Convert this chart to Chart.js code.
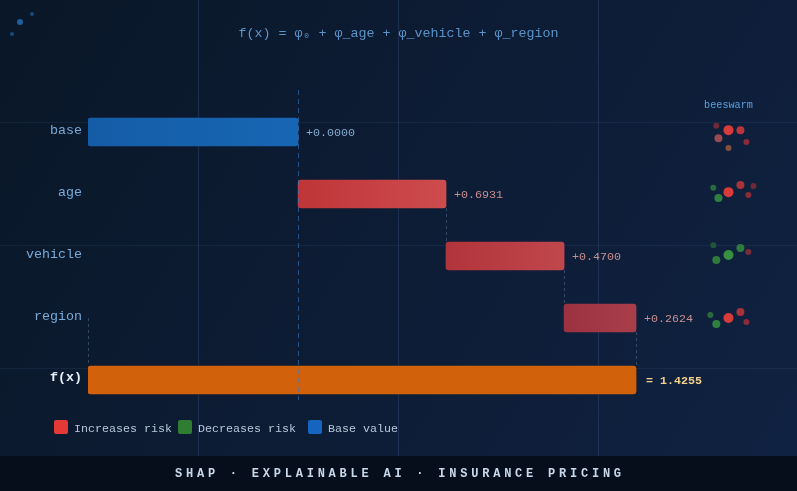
<!DOCTYPE html>
<html>
<head>
<meta charset="utf-8">
<title>SHAP waterfall</title>
<script src="https://cdn.jsdelivr.net/npm/chart.js@4/dist/chart.umd.js"></script>
<style>
  html, body { margin: 0; padding: 0; background: #0a1628; overflow: hidden; }
  canvas { display: block; }
</style>
</head>
<body>
<canvas id="chart" width="797" height="491"></canvas>
<script>
const features = ["base", "age", "vehicle", "region", "f(x)"];
// bar extents as drawn in the picture (the drawn widths are not proportional to the printed labels)
const barStart = [-0.984, 0, 0.693, 1.246, -0.984];
const barEnd = [0, 0.693, 1.246, 1.583, 1.583];
const valueLabels = ["+0.0000", "+0.6931", "+0.4700", "+0.2624", "= 1.4255"];

const swarmX = [2.016, 2.072, 1.969, 2.100, 2.016, 1.959,
                2.016, 2.072, 2.133, 2.109, 1.945, 1.969,
                2.016, 2.072, 2.109, 1.959, 1.945,
                2.016, 2.072, 2.100, 1.959, 1.931];
const swarmY = [-0.03, -0.03, 0.10, 0.16, 0.26, -0.10,
                0.97, 0.855, 0.87, 1.015, 0.90, 1.065,
                1.985, 1.87, 1.935, 2.065, 1.825,
                3.0, 2.905, 3.065, 3.095, 2.95];

const legendLabels = ["Increases risk", "Decreases risk", "Base value"];
const TITLE = "f(x) = φ₀ + φ_age + φ_vehicle + φ_region";
const FOOTER = "SHAP · EXPLAINABLE AI · INSURANCE PRICING";

const MONO = "'Liberation Mono', monospace";
const BAR_FILLS = [
  ["#155ca6", "#1766b4"],
  ["#bf3538", "#cd4c4e"],
  ["#b1343b", "#c0474b"],
  ["#9c3240", "#a73e4a"],
  ["#d1620b", "#d1620b"],
];
const SWARM_RADIUS = [5, 4, 4, 3, 3, 3,
                      5, 4, 3, 3, 3, 4,
                      5, 4, 3, 4, 3,
                      5, 4, 3, 4, 3];
const SWARM_COLOR = ["#d93a3a", "#b93539", "#974a52", "#8a2c38", "#85503f", "#6e2a38",
                     "#d93a3a", "#a93239", "#6e2a38", "#8a2c38", "#2a6b3c", "#2f8040",
                     "#36903f", "#2f7a3e", "#7a2c38", "#2f7a3e", "#20573a",
                     "#d93a3a", "#a93239", "#8a2c38", "#2f8040", "#2a6b3c"];
const LEGEND_SWATCH = [["#e53935", 54], ["#2e7d32", 178], ["#1565c0", 308]];

function barFill(ctx) {
  const i = ctx.dataIndex;
  if (ctx.type !== "data") return "#000";
  const x = ctx.chart.scales.x;
  const x0 = x.getPixelForValue(barStart[i]);
  const x1 = x.getPixelForValue(barEnd[i]);
  if (!isFinite(x0) || !isFinite(x1)) return BAR_FILLS[i][0];
  const g = ctx.chart.ctx.createLinearGradient(x0, 0, x1, 0);
  g.addColorStop(0, BAR_FILLS[i][0]);
  g.addColorStop(1, BAR_FILLS[i][1]);
  return g;
}

function text(c, str, x, y, font, color, align, spacing) {
  c.font = font;
  c.fillStyle = color;
  c.textAlign = align || "left";
  c.textBaseline = "middle";
  c.letterSpacing = spacing || "0px";
  c.fillText(str, x, y);
  c.letterSpacing = "0px";
}

// page backdrop: gradient, faint grid, corner dots
const backdrop = {
  id: "backdrop",
  beforeDraw(chart) {
    const c = chart.ctx;
    c.save();
    const g = c.createLinearGradient(0, 0, 797, 491);
    g.addColorStop(0, "#0a1728");
    g.addColorStop(1, "#102242");
    c.fillStyle = g;
    c.fillRect(0, 0, 797, 491);
    c.lineWidth = 1;
    c.strokeStyle = "rgba(80,120,180,0.22)";
    [198, 398, 598].forEach((x) => {
      c.beginPath(); c.moveTo(x + 0.5, 0); c.lineTo(x + 0.5, 456); c.stroke();
    });
    c.strokeStyle = "rgba(80,120,180,0.12)";
    [122, 245, 368].forEach((y) => {
      c.beginPath(); c.moveTo(0, y + 0.5); c.lineTo(797, y + 0.5); c.stroke();
    });
    c.fillStyle = "#1f5f9e";
    c.beginPath(); c.arc(20, 22, 3, 0, Math.PI * 2); c.fill();
    c.fillStyle = "#174a7c";
    c.beginPath(); c.arc(32, 14, 2, 0, Math.PI * 2); c.fill();
    c.beginPath(); c.arc(12, 34, 2, 0, Math.PI * 2); c.fill();
    c.restore();
  },
};

// connectors, value labels, legend, footer
const annotations = {
  id: "annotations",
  afterDatasetsDraw(chart) {
    const c = chart.ctx;
    const x = chart.scales.x;
    const y = chart.scales.y;
    const half = 14;
    const rowY = (i) => y.getPixelForValue(i);
    c.save();

    c.lineWidth = 1;
    c.strokeStyle = "rgba(60,120,190,0.6)";
    c.setLineDash([5, 4]);
    const zero = Math.round(x.getPixelForValue(0)) + 0.5;
    c.beginPath(); c.moveTo(zero, 90); c.lineTo(zero, 400); c.stroke();

    c.strokeStyle = "rgba(110,140,180,0.4)";
    c.setLineDash([3, 3]);
    [1, 2, 3].forEach((i) => {
      const px = Math.round(x.getPixelForValue(barEnd[i])) + 0.5;
      c.beginPath(); c.moveTo(px, rowY(i) + half); c.lineTo(px, rowY(i + 1) - half); c.stroke();
    });
    const left = Math.round(x.getPixelForValue(barStart[4])) + 0.5;
    c.beginPath(); c.moveTo(left, rowY(3)); c.lineTo(left, rowY(4) - half); c.stroke();
    c.setLineDash([]);

    features.forEach((f, i) => {
      const px = x.getPixelForValue(barEnd[i]);
      if (i === 4) {
        text(c, valueLabels[i], px + 10, rowY(i) + 1, "bold 11.67px " + MONO, "#f5d08a");
      } else {
        text(c, valueLabels[i], px + 8, rowY(i) + 1, "11.67px " + MONO, i === 0 ? "#86accf" : "#c98f90");
      }
    });

    text(c, "beeswarm", 728.5, 105, "10.2px " + MONO, "#5aa0e0", "center");

    legendLabels.forEach((label, i) => {
      const [color, sx] = LEGEND_SWATCH[i];
      c.fillStyle = color;
      c.beginPath(); c.roundRect(sx, 420, 14, 14, 2); c.fill();
      text(c, label, sx + 20, 429, "11.67px " + MONO, "#b8c8da");
    });

    c.fillStyle = "#060e1b";
    c.fillRect(0, 456, 797, 35);
    text(c, FOOTER, 175, 474, "bold 12px " + MONO, "#c8d8ea", "left", "3.77px");
    c.restore();
  },
};

new Chart(document.getElementById("chart"), {
  type: "bar",
  data: {
    labels: features,
    datasets: [
      {
        indexAxis: "y",
        grouped: false,
        data: barStart.map((s, i) => [s, barEnd[i]]),
        backgroundColor: barFill,
        barThickness: 28,
        borderRadius: 3,
        borderSkipped: false,
      },
      {
        type: "scatter",
        indexAxis: "x",
        yAxisID: "swarm",
        data: swarmX.map((v, i) => ({ x: v, y: swarmY[i] })),
        pointRadius: SWARM_RADIUS,
        pointBackgroundColor: SWARM_COLOR,
        pointBorderWidth: 0,
        showLine: false,
      },
    ],
  },
  options: {
    indexAxis: "y",
    responsive: false,
    animation: false,
    devicePixelRatio: 1,
    layout: { autoPadding: false, padding: { bottom: 80 } },
    plugins: {
      legend: { display: false },
      tooltip: { enabled: false },
      title: {
        display: true,
        text: TITLE,
        color: "#5a94c8",
        font: { family: MONO, size: 13.33, weight: "normal", lineHeight: 1.2 },
        padding: { top: 25, bottom: 60 },
      },
    },
    scales: {
      x: { type: "linear", display: false, min: -0.984, max: 2.337 },
      y: {
        type: "category",
        grid: { display: false, drawTicks: false },
        border: { display: false },
        afterFit: (s) => { s.width = 88; },
        ticks: {
          padding: 6,
          labelOffset: -2,
          color: (ctx) => (ctx.index === 4 ? "#e8f0fa" : "#7aaad8"),
          font: (ctx) => ({
            family: MONO,
            size: 13.33,
            weight: ctx.index === 4 ? "bold" : "normal",
          }),
        },
      },
      swarm: { axis: "y", type: "linear", display: false, reverse: true, offset: false, min: -0.5, max: 4.5 },
    },
  },
  plugins: [backdrop, annotations],
});
</script>
</body>
</html>
